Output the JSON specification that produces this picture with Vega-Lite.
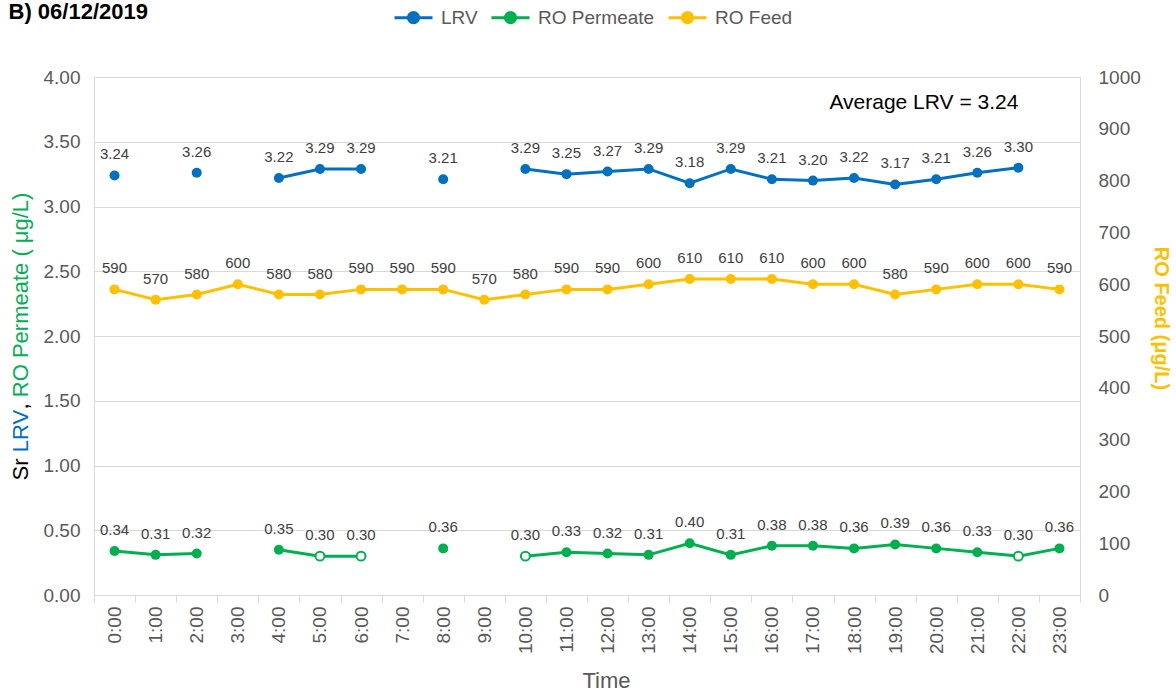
{
  "$schema": "https://vega.github.io/schema/vega-lite/v6.json",
  "autosize": {"type": "none"},
  "padding": {"left": 94, "top": 77, "right": 96, "bottom": 99},
  "width": 986,
  "height": 518,
  "background": "white",
  "config": {
    "view": {"stroke": "#d9d9d9", "strokeWidth": 1},
    "font": "Liberation Sans"
  },
  "data": {
    "values": [
      {"time": "0:00", "LRV": 3.24, "Permeate": 0.34, "Feed": 590, "bdl": false},
      {"time": "1:00", "LRV": null, "Permeate": 0.31, "Feed": 570, "bdl": false},
      {"time": "2:00", "LRV": 3.26, "Permeate": 0.32, "Feed": 580, "bdl": false},
      {"time": "3:00", "LRV": null, "Permeate": null, "Feed": 600, "bdl": false},
      {"time": "4:00", "LRV": 3.22, "Permeate": 0.35, "Feed": 580, "bdl": false},
      {"time": "5:00", "LRV": 3.29, "Permeate": 0.30, "Feed": 580, "bdl": true},
      {"time": "6:00", "LRV": 3.29, "Permeate": 0.30, "Feed": 590, "bdl": true},
      {"time": "7:00", "LRV": null, "Permeate": null, "Feed": 590, "bdl": false},
      {"time": "8:00", "LRV": 3.21, "Permeate": 0.36, "Feed": 590, "bdl": false},
      {"time": "9:00", "LRV": null, "Permeate": null, "Feed": 570, "bdl": false},
      {"time": "10:00", "LRV": 3.29, "Permeate": 0.30, "Feed": 580, "bdl": true},
      {"time": "11:00", "LRV": 3.25, "Permeate": 0.33, "Feed": 590, "bdl": false},
      {"time": "12:00", "LRV": 3.27, "Permeate": 0.32, "Feed": 590, "bdl": false},
      {"time": "13:00", "LRV": 3.29, "Permeate": 0.31, "Feed": 600, "bdl": false},
      {"time": "14:00", "LRV": 3.18, "Permeate": 0.40, "Feed": 610, "bdl": false},
      {"time": "15:00", "LRV": 3.29, "Permeate": 0.31, "Feed": 610, "bdl": false},
      {"time": "16:00", "LRV": 3.21, "Permeate": 0.38, "Feed": 610, "bdl": false},
      {"time": "17:00", "LRV": 3.20, "Permeate": 0.38, "Feed": 600, "bdl": false},
      {"time": "18:00", "LRV": 3.22, "Permeate": 0.36, "Feed": 600, "bdl": false},
      {"time": "19:00", "LRV": 3.17, "Permeate": 0.39, "Feed": 580, "bdl": false},
      {"time": "20:00", "LRV": 3.21, "Permeate": 0.36, "Feed": 590, "bdl": false},
      {"time": "21:00", "LRV": 3.26, "Permeate": 0.33, "Feed": 600, "bdl": false},
      {"time": "22:00", "LRV": 3.30, "Permeate": 0.30, "Feed": 600, "bdl": true},
      {"time": "23:00", "LRV": null, "Permeate": 0.36, "Feed": 590, "bdl": false}
    ]
  },
  "transform": [{"fold": ["LRV", "Permeate", "Feed"], "as": ["series", "value"]}],
  "encoding": {
    "x": {
      "field": "time",
      "type": "ordinal",
      "sort": null,
      "scale": {
        "type": "band",
        "domain": ["0:00","1:00","2:00","3:00","4:00","5:00","6:00","7:00","8:00","9:00","10:00","11:00","12:00","13:00","14:00","15:00","16:00","17:00","18:00","19:00","20:00","21:00","22:00","23:00"],
        "paddingInner": 0,
        "paddingOuter": 0
      },
      "axis": {
        "orient": "bottom",
        "title": "Time",
        "titleFont": "Liberation Sans",
        "titleFontSize": 22,
        "titleFontWeight": "normal",
        "titleColor": "#595959",
        "titleX": 512,
        "titleY": 85,
        "titleAlign": "center",
        "titleBaseline": "middle",
        "labelAngle": 270,
        "labelFont": "Liberation Sans",
        "labelFontSize": 19,
        "labelColor": "#595959",
        "labelPadding": 4,
        "labelOverlap": false,
        "tickBand": "extent",
        "tickColor": "#d9d9d9",
        "tickSize": 7,
        "domainColor": "#d9d9d9",
        "grid": false
      }
    }
  },
  "resolve": {"scale": {"y": "independent"}},
  "layer": [
    {
      "transform": [{"filter": "datum.series == 'Feed'"}],
      "mark": {"type": "line", "strokeWidth": 3, "invalid": "break-paths-show-domains"},
      "encoding": {
        "y": {
          "field": "value", "type": "quantitative",
          "scale": {"domain": [0, 1000], "nice": false},
          "axis": {
            "orient": "right",
            "values": [0, 100, 200, 300, 400, 500, 600, 700, 800, 900, 1000],
            "format": "d",
            "title": "RO Feed (μg/L)",
            "titleColor": "#ffc000",
            "titleFont": "Liberation Sans",
            "titleFontSize": 20,
            "titleFontWeight": "bold",
            "titleAngle": 90,
            "titleX": 80,
            "titleY": 241,
            "titleAlign": "center",
            "titleBaseline": "middle",
            "labelFont": "Liberation Sans",
            "labelFontSize": 19,
            "labelColor": "#595959",
            "labelPadding": 18,
            "ticks": false,
            "tickSize": 0,
            "domain": false,
            "grid": false
          }
        },
        "color": {
          "field": "series", "type": "nominal",
          "scale": {"domain": ["LRV", "Permeate", "Feed"], "range": ["#0070c0", "#00b050", "#ffc000"]},
          "legend": {
            "orient": "none",
            "legendX": 299,
            "legendY": -80,
            "direction": "horizontal",
            "title": null,
            "padding": 0,
            "symbolType": "M-1,0H1M-0.27,0A0.27,0.27,0,1,1,0.27,0A0.27,0.27,0,1,1,-0.27,0Z",
            "symbolSize": 1444,
            "symbolStrokeWidth": 3,
            "labelFont": "Liberation Sans",
            "labelFontSize": 19,
            "labelColor": "#595959",
            "labelOffset": 7,
            "columnPadding": 7,
            "labelExpr": "datum.label == 'LRV' ? 'LRV' : 'RO ' + datum.label",
            "encode": {
              "symbols": {
                "update": {
                  "fill": {"scale": "color", "field": "value"},
                  "stroke": {"scale": "color", "field": "value"},
                  "opacity": {"value": 1}
                }
              }
            }
          }
        }
      }
    },
    {
      "transform": [{"filter": "datum.series == 'Feed' && datum.value != null"}],
      "mark": {"type": "point", "filled": true, "size": 100, "opacity": 1},
      "encoding": {
        "y": {
          "field": "value", "type": "quantitative",
          "scale": {"domain": [0, 1000], "nice": false},
          "axis": {
            "orient": "left",
            "labels": false, "ticks": false, "tickSize": 0, "domain": false, "grid": false,
            "title": "B) 06/12/2019",
            "titleColor": "#000000",
            "titleFont": "Liberation Sans",
            "titleFontSize": 22,
            "titleFontWeight": "bold",
            "titleAngle": 0,
            "titleAlign": "left",
            "titleBaseline": "middle",
            "titleX": -86,
            "titleY": -66
          }
        },
        "color": {"field": "series", "type": "nominal", "scale": {"domain": ["LRV", "Permeate", "Feed"], "range": ["#0070c0", "#00b050", "#ffc000"]}, "legend": null}
      }
    },
    {
      "transform": [{"filter": "datum.series == 'Feed' && datum.value != null"}],
      "mark": {"type": "text", "font": "Liberation Sans", "fontSize": 15, "color": "#404040", "baseline": "middle", "dy": -21},
      "encoding": {
        "y": {"field": "value", "type": "quantitative", "scale": {"domain": [0, 1000], "nice": false}, "axis": null},
        "text": {"field": "value", "type": "quantitative", "format": "d"}
      }
    },
    {
      "transform": [{"filter": "datum.series == 'LRV'"}],
      "mark": {"type": "line", "strokeWidth": 3, "invalid": "break-paths-show-domains"},
      "encoding": {
        "y": {
          "field": "value", "type": "quantitative",
          "scale": {"domain": [0, 4], "nice": false},
          "axis": {
            "orient": "left",
            "values": [0, 0.5, 1, 1.5, 2, 2.5, 3, 3.5, 4],
            "format": ".2f",
            "grid": true,
            "gridColor": "#d9d9d9",
            "gridWidth": 1,
            "ticks": false,
            "tickSize": 0,
            "domain": false,
            "labelFont": "Liberation Sans",
            "labelFontSize": 19,
            "labelColor": "#595959",
            "labelPadding": 14,
            "title": "Sr",
            "titleColor": "#000000",
            "titleFont": "Liberation Sans",
            "titleFontSize": 22,
            "titleFontWeight": "normal",
            "titleAngle": 270,
            "titleAlign": "left",
            "titleBaseline": "middle",
            "titleX": -74,
            "titleY": 403
          }
        },
        "color": {"field": "series", "type": "nominal", "scale": {"domain": ["LRV", "Permeate", "Feed"], "range": ["#0070c0", "#00b050", "#ffc000"]}, "legend": null}
      }
    },
    {
      "transform": [{"filter": "datum.series == 'LRV' && datum.value != null"}],
      "mark": {"type": "point", "filled": true, "size": 100, "opacity": 1},
      "encoding": {
        "y": {
          "field": "value", "type": "quantitative",
          "scale": {"domain": [0, 4], "nice": false},
          "axis": {
            "orient": "left",
            "labels": false, "ticks": false, "tickSize": 0, "domain": false, "grid": false,
            "title": "LRV",
            "titleColor": "#0070c0",
            "titleFont": "Liberation Sans",
            "titleFontSize": 22,
            "titleFontWeight": "normal",
            "titleAngle": 270,
            "titleAlign": "left",
            "titleBaseline": "middle",
            "titleX": -74,
            "titleY": 374.7
          }
        },
        "color": {"field": "series", "type": "nominal", "scale": {"domain": ["LRV", "Permeate", "Feed"], "range": ["#0070c0", "#00b050", "#ffc000"]}, "legend": null}
      }
    },
    {
      "transform": [{"filter": "datum.series == 'LRV' && datum.value != null"}],
      "mark": {"type": "text", "font": "Liberation Sans", "fontSize": 15, "color": "#404040", "baseline": "middle", "dy": -21},
      "encoding": {
        "y": {
          "field": "value", "type": "quantitative",
          "scale": {"domain": [0, 4], "nice": false},
          "axis": {
            "orient": "left",
            "labels": false, "ticks": false, "tickSize": 0, "domain": false, "grid": false,
            "title": ",",
            "titleColor": "#000000",
            "titleFont": "Liberation Sans",
            "titleFontSize": 22,
            "titleFontWeight": "normal",
            "titleAngle": 270,
            "titleAlign": "left",
            "titleBaseline": "middle",
            "titleX": -74,
            "titleY": 331.9
          }
        },
        "text": {"field": "value", "type": "quantitative", "format": ".2f"}
      }
    },
    {
      "transform": [{"filter": "datum.series == 'Permeate'"}],
      "mark": {"type": "line", "strokeWidth": 3, "invalid": "break-paths-show-domains"},
      "encoding": {
        "y": {
          "field": "value", "type": "quantitative",
          "scale": {"domain": [0, 4], "nice": false},
          "axis": {
            "orient": "left",
            "labels": false, "ticks": false, "tickSize": 0, "domain": false, "grid": false,
            "title": "RO Permeate ( μg/L)",
            "titleColor": "#00b050",
            "titleFont": "Liberation Sans",
            "titleFontSize": 22,
            "titleFontWeight": "normal",
            "titleAngle": 270,
            "titleAlign": "left",
            "titleBaseline": "middle",
            "titleX": -74,
            "titleY": 319.7
          }
        },
        "color": {"field": "series", "type": "nominal", "scale": {"domain": ["LRV", "Permeate", "Feed"], "range": ["#0070c0", "#00b050", "#ffc000"]}, "legend": null}
      }
    },
    {
      "transform": [{"filter": "datum.series == 'Permeate' && datum.value != null && !datum.bdl"}],
      "mark": {"type": "point", "filled": true, "size": 100, "opacity": 1},
      "encoding": {
        "y": {"field": "value", "type": "quantitative", "scale": {"domain": [0, 4], "nice": false}, "axis": null},
        "color": {"field": "series", "type": "nominal", "scale": {"domain": ["LRV", "Permeate", "Feed"], "range": ["#0070c0", "#00b050", "#ffc000"]}, "legend": null}
      }
    },
    {
      "transform": [{"filter": "datum.series == 'Permeate' && datum.value != null && datum.bdl"}],
      "mark": {"type": "point", "filled": false, "fill": "#ffffff", "stroke": "#00b050", "strokeWidth": 2, "size": 80, "opacity": 1},
      "encoding": {
        "y": {"field": "value", "type": "quantitative", "scale": {"domain": [0, 4], "nice": false}, "axis": null}
      }
    },
    {
      "transform": [{"filter": "datum.series == 'Permeate' && datum.value != null"}],
      "mark": {"type": "text", "font": "Liberation Sans", "fontSize": 15, "color": "#404040", "baseline": "middle", "dy": -21},
      "encoding": {
        "y": {"field": "value", "type": "quantitative", "scale": {"domain": [0, 4], "nice": false}, "axis": null},
        "text": {"field": "value", "type": "quantitative", "format": ".2f"}
      }
    },
    {
      "transform": [{"filter": "datum.series == 'LRV' && datum.time == '22:00'"}],
      "mark": {"type": "text", "font": "Liberation Sans", "fontSize": 21, "color": "#000000", "align": "right", "baseline": "middle", "text": "Average LRV = 3.24"},
      "encoding": {
        "y": {"datum": 3.8, "type": "quantitative", "scale": {"domain": [0, 4], "nice": false}, "axis": null}
      }
    }
  ]
}
